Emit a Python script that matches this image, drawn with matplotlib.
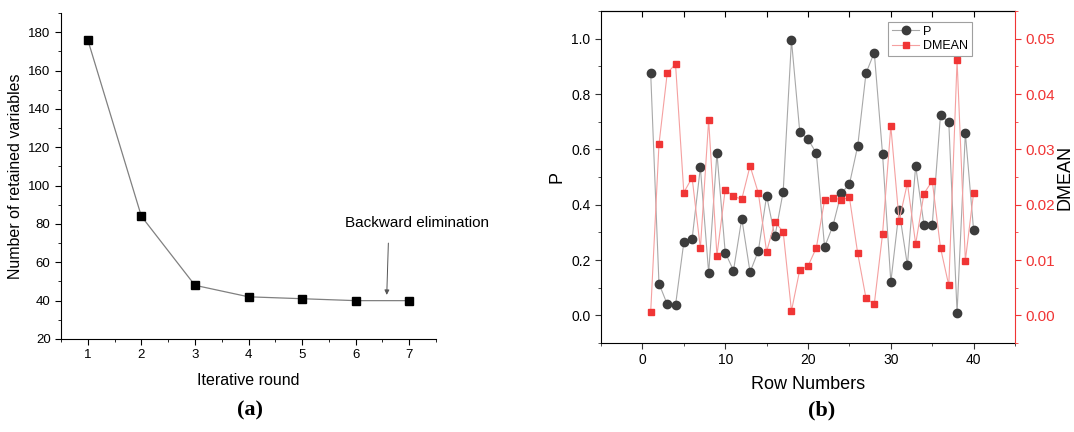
import matplotlib
matplotlib.use('Agg')
from matplotlib import pyplot as plt
from matplotlib.ticker import MultipleLocator

plt.rcParams['font.family'] = ['Liberation Sans', 'DejaVu Sans']

# panel (a)
rounds = [1, 2, 3, 4, 5, 6, 7]
retained = [176, 84, 48, 42, 41, 40, 40]

# panel (b)
rows = list(range(1, 41))
p_vals = [0.875, 0.115, 0.040, 0.037, 0.264, 0.276, 0.535, 0.153, 0.587, 0.227,
          0.162, 0.350, 0.156, 0.233, 0.432, 0.285, 0.447, 0.994, 0.664, 0.636,
          0.587, 0.247, 0.323, 0.441, 0.474, 0.612, 0.875, 0.950, 0.583, 0.120,
          0.379, 0.181, 0.540, 0.327, 0.327, 0.725, 0.698, 0.010, 0.659, 0.307]
dmean = [0.0006, 0.0309, 0.0438, 0.0454, 0.0222, 0.0249, 0.0121, 0.0353, 0.0108, 0.0227,
         0.0215, 0.0210, 0.0270, 0.0221, 0.0115, 0.0169, 0.0151, 0.0008, 0.0082, 0.0089,
         0.0122, 0.0208, 0.0212, 0.0209, 0.0213, 0.0112, 0.0031, 0.0020, 0.0147, 0.0342,
         0.0171, 0.0239, 0.0129, 0.0220, 0.0243, 0.0122, 0.0054, 0.0461, 0.0099, 0.0222]

fig = plt.figure(figsize=(10.74, 4.32), dpi=100)

# ---- (a)
ax1 = fig.add_axes([0.0568, 0.2153, 0.3492, 0.7546])
ax1.plot(rounds, retained, color='#808080', lw=0.9, marker='s', ms=6,
         mfc='black', mec='black')
ax1.set_xlim(0.5, 7.5)
ax1.set_ylim(20, 190)
ax1.set_yticks(range(20, 181, 20))
ax1.xaxis.set_minor_locator(MultipleLocator(0.5))
ax1.yaxis.set_minor_locator(MultipleLocator(10))
ax1.spines['top'].set_visible(False)
ax1.spines['right'].set_visible(False)
ax1.tick_params(which='both', direction='out', labelsize=9.5, colors='black')
ax1.tick_params(which='major', length=4)
ax1.tick_params(which='minor', length=2.5)
ax1.set_xlabel('Iterative round', fontsize=11.5, labelpad=8)
ax1.set_ylabel('Number of retained variables', fontsize=11.5)
ax1.text(7.14, 80.5, 'Backward elimination', ha='center', va='center', fontsize=11)
ax1.annotate('', xy=(6.58, 43), xytext=(6.61, 70),
             arrowprops=dict(arrowstyle='-|>', color='#555555', lw=0.7,
                             shrinkA=0, shrinkB=0, mutation_scale=7))
fig.text(0.233, 0.05, '(a)', ha='center', va='center', fontsize=16,
         family='Liberation Serif', fontweight='bold')

# ---- (b)
ax2 = fig.add_axes([0.5596, 0.206, 0.3855, 0.7685])
red = '#f03535'
lp, = ax2.plot(rows, p_vals, color='#a8a8a8', lw=0.8, marker='o', ms=6,
               mfc='#3c3c3c', mec='#3c3c3c', label='P')
ax2.set_xlim(-5, 45)
ax2.set_ylim(-0.1, 1.1)
ax2.set_xticks(range(0, 41, 10))
ax2.xaxis.set_minor_locator(MultipleLocator(5))
ax2.yaxis.set_minor_locator(MultipleLocator(0.1))
ax2.set_yticks([0.0, 0.2, 0.4, 0.6, 0.8, 1.0])
ax2.tick_params(which='both', direction='out', labelsize=10, colors='#333333',
                labelcolor='black')
ax2.tick_params(which='major', length=4)
ax2.tick_params(which='minor', length=2.5)
ax2.set_xlabel('Row Numbers', fontsize=13, labelpad=6)
ax2.set_ylabel('P', fontsize=13)
ax2.spines['right'].set_visible(False)

# top tick marks pointing inward
top = ax2.secondary_xaxis('top')
top.set_xticks(range(0, 41, 5))
top.tick_params(direction='in', length=4, labeltop=False)

ax3 = ax2.twinx()
lr, = ax3.plot(rows, dmean, color='#f5a0a0', lw=0.8, marker='s', ms=5,
               mfc=red, mec=red, label='DMEAN')
ax3.set_ylim(-0.005, 0.055)
ax3.set_yticks([0.0, 0.01, 0.02, 0.03, 0.04, 0.05])
ax3.set_yticklabels(['0.00', '0.01', '0.02', '0.03', '0.04', '0.05'])
ax3.yaxis.set_minor_locator(MultipleLocator(0.005))
ax3.spines['right'].set_color(red)
for s in ['left', 'top', 'bottom']:
    ax3.spines[s].set_visible(False)
ax3.tick_params(which='both', direction='out', colors=red, labelsize=11)
ax3.tick_params(which='major', length=4)
ax3.tick_params(which='minor', length=2.5)
ax3.set_ylabel('DMEAN', fontsize=13, color='black', labelpad=1)

leg = ax3.legend(handles=[lp, lr], loc='upper right',
                 bbox_to_anchor=(0.896, 0.967), fontsize=9, frameon=True,
                 fancybox=False, edgecolor='#888888', handlelength=2.2,
                 borderpad=0.3, labelspacing=0.2, handletextpad=0.3,
                 borderaxespad=0)
leg.get_frame().set_linewidth(0.8)

fig.text(0.765, 0.05, '(b)', ha='center', va='center', fontsize=16,
         family='Liberation Serif', fontweight='bold')

fig.savefig('out.png', dpi=100)
